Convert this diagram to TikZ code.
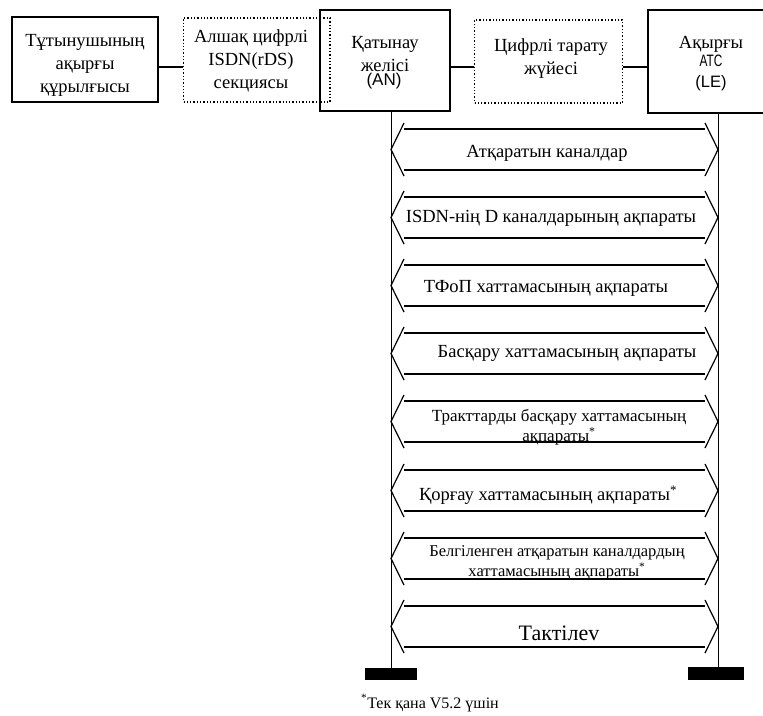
\documentclass[tikz,border=0pt]{standalone}
\usepackage{fontspec}
\setmainfont{Liberation Serif}
\newfontfamily\arialfont{Liberation Sans}
\newcommand{\fnmark}{\textsuperscript{*}}
\begin{document}
\begin{tikzpicture}[x=1pt,y=-1pt,
  solidbox/.style={draw=black,line width=1.3pt,inner sep=0pt},
  dotbox/.style={draw=black,line width=1.3pt,dash pattern=on 1.3pt off 2pt,inner sep=0pt},
  boxtext/.style={align=center,font=\fontsize{18.5}{23}\selectfont,inner sep=0pt},
  sanstext/.style={align=center,font=\arialfont\fontsize{16.5}{20.5}\selectfont,inner sep=0pt},
  msgtext/.style={align=center,font=\fontsize{18.5}{20}\selectfont,inner sep=0pt},
  smallmsg/.style={align=center,font=\fontsize{16.5}{20}\selectfont,inner sep=0pt},
  msgpath/.style={line width=1.2pt,line join=miter},
  lifeline/.style={line width=0.9pt},
  groundbar/.style={fill=black,draw=none}
]
\useasboundingbox (0,0) rectangle (763,715);
\clip (0,0) rectangle (763,715);

% equipment boxes along the top row
\node[solidbox,minimum width=146pt,minimum height=85pt] (dev) at (85,59.5) {};
\node[dotbox,minimum width=147pt,minimum height=84pt] (rds) at (257,60) {};
\node[solidbox,fill=white,minimum width=130pt,minimum height=101pt] (an) at (385,60.5) {};
\draw[dotbox] (320,18) -- (330,18) -- (330,102) -- (320,102);
\node[dotbox,minimum width=148pt,minimum height=83pt] (dts) at (548.5,61.5) {};
\node[solidbox,minimum width=128pt,minimum height=103pt] (le) at (712,61.5) {};

% box captions
\node[boxtext] (devtxt) at (85,65) {Тұтынушының\\ақырғы\\құрылғысы};
\node[boxtext] (rdstxt) at (251,61) {Алшақ цифрлі\\ISDN(rDS)\\секциясы};
\node[boxtext] (antxt) at (385,54) {Қатынау\\желісі};
\node[sanstext,font=\arialfont\fontsize{17}{19}\selectfont] (anabbr) at (384,81) {(AN)};
\node[boxtext] (letxt) at (711,44) {Ақырғы};
\node[sanstext] (leabbr) at (711,73) {\scalebox{0.72}[1]{АТС}\\(LE)};
\node[boxtext] (dtstxt) at (551,59) {Цифрлі тарату\\жүйесі};

% links between the boxes
\coordinate (linkrow) at (0,67);
\draw[line width=1.2pt] (dev.east |- linkrow) -- (rds.west |- linkrow);
\draw[line width=1.2pt] (an.east |- linkrow) -- (dts.west |- linkrow);
\draw[line width=1.2pt] (dts.east |- linkrow) -- (le.west |- linkrow);

% lifelines and their end bars
\node[groundbar,minimum width=52pt,minimum height=12pt,inner sep=0pt] (anbar) at (391,674) {};
\node[groundbar,minimum width=56pt,minimum height=13pt,inner sep=0pt] (lebar) at (716,673.5) {};
\draw[lifeline] (an.south -| anbar.north) -- (anbar.north);
\draw[lifeline] (le.south -| 718,0) -- (718,667);

% double-headed message arrows between AN and LE
\foreach \t in {129,197,265,333,401,470,538,606}{
  \pgfmathsetmacro{\b}{\t+41}
  \pgfmathsetmacro{\m}{\t+20.5}
  \draw[msgpath] (404,\t-6) -- (391,\m) -- (404,\b+6);
  \draw[msgpath] (705,\t-6) -- (718,\m) -- (705,\b+6);
  \draw[msgpath] (404,\t) -- (705,\t);
  \draw[msgpath] (404,\b) -- (705,\b);
}

% message labels
\node[msgtext] (m1) at (547,153) {Атқаратын каналдар};
\node[msgtext] (m2) at (551,218) {ISDN-нің D каналдарының ақпараты};
\node[msgtext] (m3) at (546,288) {ТФоП хаттамасының ақпараты};
\node[msgtext] (m4) at (567,353) {Басқару хаттамасының ақпараты};
\node[smallmsg,font=\fontsize{17}{20.5}\selectfont] (m5) at (559,427) {Тракттарды басқару хаттамасының\\ақпараты\fnmark};
\node[msgtext] (m6) at (548,495) {Қорғау хаттамасының ақпараты\fnmark};
\node[smallmsg] (m7) at (557,563) {Белгіленген атқаратын каналдардың\\хаттамасының ақпараты\fnmark};
\node[msgtext,font=\fontsize{22}{24}\selectfont] (m8) at (559,633) {Тактілеv};

% footnote
\node[anchor=west,inner sep=0pt,font=\fontsize{16}{18}\selectfont] (note) at (361,703) {\fnmark Тек қана V5.2 үшін};
\end{tikzpicture}
\end{document}
